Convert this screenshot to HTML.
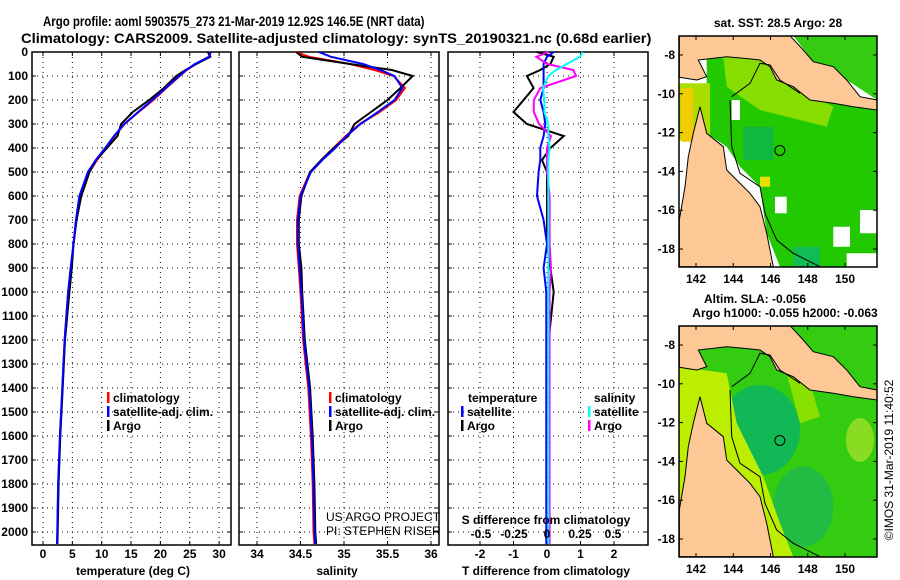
<!DOCTYPE html>
<html><head><meta charset="utf-8"><style>
html,body{margin:0;padding:0;background:#fff;}
svg{display:block;font-family:"Liberation Sans",sans-serif;}
.t{font-weight:bold;font-size:14px;fill:#000;}
.tk{font-weight:bold;font-size:12px;fill:#000;}
.g{stroke:#000;stroke-width:1;stroke-dasharray:1 4;}
</style></head><body>
<svg id="chart" width="900" height="580" viewBox="0 0 900 580">
<text id="t1" class="t" x="0" y="0" transform="translate(43,26)">Argo profile: aoml 5903575_273 21-Mar-2019 12.92S 146.5E (NRT data)</text>
<text id="t2" class="t" x="0" y="0" transform="translate(21,43)">Climatology: CARS2009. Satellite-adjusted climatology: synTS_20190321.nc (0.68d earlier)</text>
</svg>
<script>
const depths=[0,20,50,75,100,150,200,250,300,350,400,450,500,600,700,800,900,1000,1200,1400,1600,1800,2000,2050];
const tempClim=[28.4,28.3,26,24.5,23.3,21,18.8,16.3,13.9,12.2,10.8,9.2,7.9,6.5,5.7,5.2,4.8,4.3,3.7,3.3,2.9,2.6,2.45,2.4];
const tempSat=[28.6,28.3,25.9,24.4,23.2,20.9,18.6,16.2,13.85,12.1,10.6,9.0,7.65,6.2,5.6,5.2,4.7,4.28,3.68,3.28,2.88,2.58,2.43,2.38];
const tempArgo=[28.1,28.5,26.1,24.3,22.7,20.6,18.1,15.3,13.3,12.7,10.9,9.05,7.9,6.5,5.7,5.2,4.9,4.5,3.75,3.35,2.95,2.65,2.5,2.45];
const salClim=[34.44,34.6,35.07,35.35,35.57,35.7,35.6,35.41,35.18,35.02,34.88,34.74,34.61,34.49,34.46,34.46,34.48,34.5,34.53,34.59,34.62,34.64,34.65,34.66];
const salSat=[34.71,34.85,35.22,35.42,35.58,35.67,35.58,35.39,35.19,35.03,34.9,34.75,34.62,34.5,34.47,34.47,34.49,34.51,34.54,34.6,34.63,34.65,34.66,34.67];
const salArgo=[34.45,34.52,35.07,35.55,35.79,35.65,35.5,35.31,35.12,35.05,34.88,34.74,34.61,34.51,34.48,34.48,34.51,34.52,34.55,34.61,34.64,34.66,34.67,34.68];
const depthTicks=[0,100,200,300,400,500,600,700,800,900,1000,1100,1200,1300,1400,1500,1600,1700,1800,1900,2000];
const tempTicks=[0,5,10,15,20,25,30];
const salTicks=[34,34.5,35,35.5,36];
const tDiffTicks=[-2,-1,0,1,2];
const sDiffTicks=[-0.5,-0.25,0,0.25,0.5];
const lonTicks=[142,144,146,148,150];
const latTicks=[-8,-10,-12,-14,-16,-18];
const argoLon=146.5, argoLat=-12.92;

const NS="http://www.w3.org/2000/svg";
const svg=document.getElementById('chart');
[['t1',43,26,382],['t2',21,43,631]].forEach(a=>{const e=document.getElementById(a[0]);const w=e.getComputedTextLength()||a[3];
  e.setAttribute('transform','translate('+a[1]+','+a[2]+') scale('+(a[3]/w).toFixed(4)+',1)');});
function mk(tag,attrs,parent){const e=document.createElementNS(NS,tag);for(const k in attrs)e.setAttribute(k,attrs[k]);(parent||svg).appendChild(e);return e;}
const yD=d=>52+d*0.24;
const yTop=52,yBot=545;
function lin(d0,r0,d1,r1){return v=>r0+(v-d0)*(r1-r0)/(d1-d0);}
const xT=v=>43+v*5.87;
const xS=v=>257+(v-34)*87;
const xTD=v=>547+v*33.5;
const xSD=v=>547+v*132;

function panel(name,x0,x1,xt,ticks,fmt,showDepthLabels){
  const g=mk('g',{});
  
  
  ticks.forEach(t=>{const x=xt(t);
    const l=mk('line',{x1:x,x2:x,y1:yTop,y2:yBot,class:'g'},g);
    
    
    mk('line',{x1:x,x2:x,y1:yBot,y2:yBot-4,stroke:'#000'},g);
    mk('line',{x1:x,x2:x,y1:yTop,y2:yTop+4,stroke:'#000'},g);
    if(fmt){const tx=mk('text',{x:x,y:558,'text-anchor':'middle',class:'tk'},g);tx.textContent=fmt(t);
      
      }
  });
  depthTicks.forEach(d=>{const y=yD(d);
    const l=mk('line',{x1:x0,x2:x1,y1:y,y2:y,class:'g'},g);
    
    
    mk('line',{x1:x0,x2:x0+4,y1:y,y2:y,stroke:'#000'},g);
    mk('line',{x1:x1,x2:x1-4,y1:y,y2:y,stroke:'#000'},g);
    if(showDepthLabels){const tx=mk('text',{x:x0-4,y:y+4,'text-anchor':'end',class:'tk'},g);tx.textContent=d;
      
      }
  });
  const r=mk('rect',{x:x0,y:yTop,width:x1-x0,height:yBot-yTop,fill:'none',stroke:'#000','stroke-width':1.5},g);
  
  
  return g;
}
function line(g,vals,xf,color,name){
  const pts=vals.map((v,i)=>xf(v).toFixed(1)+','+yD(depths[i]).toFixed(1)).join(' ');
  const p=mk('polyline',{points:pts,fill:'none',stroke:color,'stroke-width':2},g);
  
  
}
function txt(g,s,x,y,cls,anchor,name,extra){const t=mk('text',Object.assign({x:x,y:y,class:cls,'text-anchor':anchor||'start'},extra||{}),g);t.textContent=s;
  
  return t;}
function legend(g,items,x,y){items.forEach((it,i)=>{const yy=y+i*14;
  const m=mk('rect',{x:x,y:yy-10,width:2.5,height:11,fill:it[1]},g);
  
  
  txt(g,it[0],x+6,yy,'tk','start','legend-entry');});}

const gT=panel('temperature-panel',32,231,xT,tempTicks,v=>v,true);
line(gT,tempClim,xT,'#f00','temp-climatology-line');
line(gT,tempArgo,xT,'#000','temp-argo-line');
line(gT,tempSat,xT,'#00f','temp-satellite-line');
txt(gT,'temperature (deg C)',133,575,'tk','middle','x-axis-title-temperature');
legend(gT,[['climatology','#f00'],['satellite-adj. clim.','#00f'],['Argo','#000']],107,402);

const gS=panel('salinity-panel',239,439,xS,salTicks,v=>v,false);
line(gS,salClim,xS,'#f00','sal-climatology-line');
line(gS,salArgo,xS,'#000','sal-argo-line');
line(gS,salSat,xS,'#00f','sal-satellite-line');
txt(gS,'salinity',337,575,'tk','middle','x-axis-title-salinity');
legend(gS,[['climatology','#f00'],['satellite-adj. clim.','#00f'],['Argo','#000']],329,402);
txt(gS,'US ARGO PROJECT',326,521,'tk','start','credit-project',{style:'font-weight:normal'});
txt(gS,'PI: STEPHEN RISER',326,535,'tk','start','credit-pi',{style:'font-weight:normal'});

const gD=panel('difference-panel',448,648,xTD,tDiffTicks,v=>v,false);
const dTsat=tempSat.map((v,i)=>v-tempClim[i]);
const dTargo=tempArgo.map((v,i)=>v-tempClim[i]);
const dSsat=salSat.map((v,i)=>v-salClim[i]);
const dSargo=salArgo.map((v,i)=>v-salClim[i]);
line(gD,dTargo,xTD,'#000','temp-diff-argo-line');
line(gD,dTsat,xTD,'#00f','temp-diff-satellite-line');
line(gD,dSargo,xSD,'#f0f','sal-diff-argo-line');
line(gD,dSsat,xSD,'#0ff','sal-diff-satellite-line');
txt(gD,'S difference from climatology',546,524,'tk','middle','s-axis-title');
sDiffTicks.forEach(v=>txt(gD,String(v),xSD(v),538,'tk','middle','s-tick-label'));
txt(gD,'T difference from climatology',546,575,'tk','middle','t-axis-title');
txt(gD,'temperature',468,402,'tk','start','legend-title-temperature');
legend(gD,[['satellite','#00f'],['Argo','#000']],461,416);
txt(gD,'salinity',594,402,'tk','start','legend-title-salinity');
legend(gD,[['satellite','#0ff'],['Argo','#f0f']],588,416);

const mlx=lin(142,696,150,845);
function map(name,y0,kind){
  const g=mk('g',{});
  
  
  const my=v=>y0+19+(-8-v)*19.4;
  const X0=679,X1=877,Y0=y0,Y1=y0+231;
  const cid='clip'+y0;
  const cp=mk('clipPath',{id:cid},g);mk('rect',{x:X0,y:Y0,width:X1-X0,height:Y1-Y0},cp);
  const inner=mk('g',{'clip-path':'url(#'+cid+')'},g);
  const P=(a)=>a.map(p=>(660+p[0]/3).toFixed(1)+','+(y0-36+p[1]/3).toFixed(1)).join(' ');
  if(kind==='sst'){
    mk('rect',{x:X0,y:Y0,width:X1-X0,height:Y1-Y0,fill:'#fff'},inner);
    mk('polygon',{points:P([[140,170],[350,190],[400,260],[652,330],[652,800],[360,800],[320,700],[300,560],[240,500],[200,440],[140,400]]),fill:'#22c800'},inner);
    mk('polygon',{points:P([[400,107],[652,107],[652,300],[560,240],[460,185]]),fill:'#33cc11'},inner);
    mk('polygon',{points:P([[190,170],[320,180],[400,260],[520,320],[500,380],[300,330],[200,260]]),fill:'#88dd00'},inner);
    mk('polygon',{points:P([[58,250],[150,250],[150,420],[58,420]]),fill:'#aadd00'},inner);
    mk('polygon',{points:P([[62,265],[100,265],[100,425],[62,425]]),fill:'#f0cc00'},inner);
    mk('polygon',{points:P([[300,530],[330,530],[330,560],[300,560]]),fill:'#e8e000'},inner);
    mk('polygon',{points:P([[215,300],[240,300],[240,360],[215,360]]),fill:'#fff'},inner);
    mk('polygon',{points:P([[345,590],[380,590],[380,640],[345,640]]),fill:'#fff'},inner);
    mk('polygon',{points:P([[600,630],[652,630],[652,700],[600,700]]),fill:'#fff'},inner);
    mk('polygon',{points:P([[520,680],[570,680],[570,740],[520,740]]),fill:'#fff'},inner);
    mk('polygon',{points:P([[560,760],[652,760],[652,800],[560,800]]),fill:'#fff'},inner);
    mk('polygon',{points:P([[400,740],[480,740],[480,800],[400,800]]),fill:'#11bb55'},inner);
    mk('polygon',{points:P([[250,380],[340,380],[340,480],[250,480]]),fill:'#11b840'},inner);
  } else {
    mk('rect',{x:X0,y:Y0,width:X1-X0,height:Y1-Y0,fill:'#33cc11'},inner);
    mk('ellipse',{cx:660+300/3,cy:y0-36+420/3,rx:40,ry:45,fill:'#11b855'},inner);
    mk('ellipse',{cx:660+430/3,cy:y0-36+650/3,rx:30,ry:40,fill:'#22bb44'},inner);
    mk('ellipse',{cx:660+600/3,cy:y0-36+450/3,rx:14,ry:22,fill:'#88dd22'},inner);
    mk('polygon',{points:P([[58,230],[200,250],[230,400],[310,560],[360,700],[400,800],[58,800]]),fill:'#bbee00'},inner);
    mk('polygon',{points:P([[380,250],[450,280],[480,380],[420,400]]),fill:'#88e000'},inner);
  }
  mk('polygon',{points:P([[58,107],[390,107],[430,150],[460,185],[520,200],[560,240],[600,290],[652,300],[652,330],[580,320],[520,310],[450,300],[400,260],[350,240],[330,200],[300,180],[250,175],[200,170],[115,180],[140,230],[110,240],[58,232]]),fill:'#fdc896',stroke:'#000','stroke-width':1},inner);
  mk('polygon',{points:P([[58,800],[58,660],[75,560],[85,470],[100,400],[120,320],[140,400],[190,440],[200,510],[230,540],[270,580],[300,620],[320,700],[340,800]]),fill:'#fdc896',stroke:'#000','stroke-width':1},inner);
  mk('polyline',{points:P([[210,300],[215,440],[240,520],[300,560],[315,640],[350,720],[400,760],[480,800]]),fill:'none',stroke:'#000','stroke-width':1},inner);
  mk('polyline',{points:P([[215,290],[270,250],[300,190],[330,195],[360,240],[420,280]]),fill:'none',stroke:'#000','stroke-width':1},inner);
  const fr=mk('rect',{x:X0,y:Y0,width:X1-X0,height:Y1-Y0,fill:'none',stroke:'#000','stroke-width':1.5},g);
  
  
  lonTicks.forEach(v=>{const x=mlx(v);mk('line',{x1:x,x2:x,y1:Y1,y2:Y1-4,stroke:'#000'},g);mk('line',{x1:x,x2:x,y1:Y0,y2:Y0+4,stroke:'#000'},g);
    txt(g,String(v),x,Y1+16,'tk','middle','lon-tick-label');});
  latTicks.forEach(v=>{const y=my(v);mk('line',{x1:X0,x2:X0+4,y1:y,y2:y,stroke:'#000'},g);mk('line',{x1:X1,x2:X1-4,y1:y,y2:y,stroke:'#000'},g);
    txt(g,String(v),X0-4,y+4,'tk','end','lat-tick-label');});
  const c=mk('circle',{cx:mlx(argoLon),cy:my(argoLat),r:5,fill:'none',stroke:'#000','stroke-width':1},g);
  
  
}
map('sst-map',36,'sst');
map('sla-map',326,'sla');
txt(svg,'sat. SST: 28.5 Argo: 28',778,27,'tk','middle','sst-map-title');
txt(svg,'Altim. SLA: -0.056',755,303,'tk','middle','sla-map-title');
txt(svg,'Argo h1000: -0.055 h2000: -0.063',785,317,'tk','middle','sla-map-subtitle');
txt(svg,'©IMOS 31-Mar-2019 11:40:52',0,0,'tk','middle','copyright-stamp',{transform:'translate(893,460) rotate(-90)',style:'font-weight:normal'});
</script>
</body></html>
